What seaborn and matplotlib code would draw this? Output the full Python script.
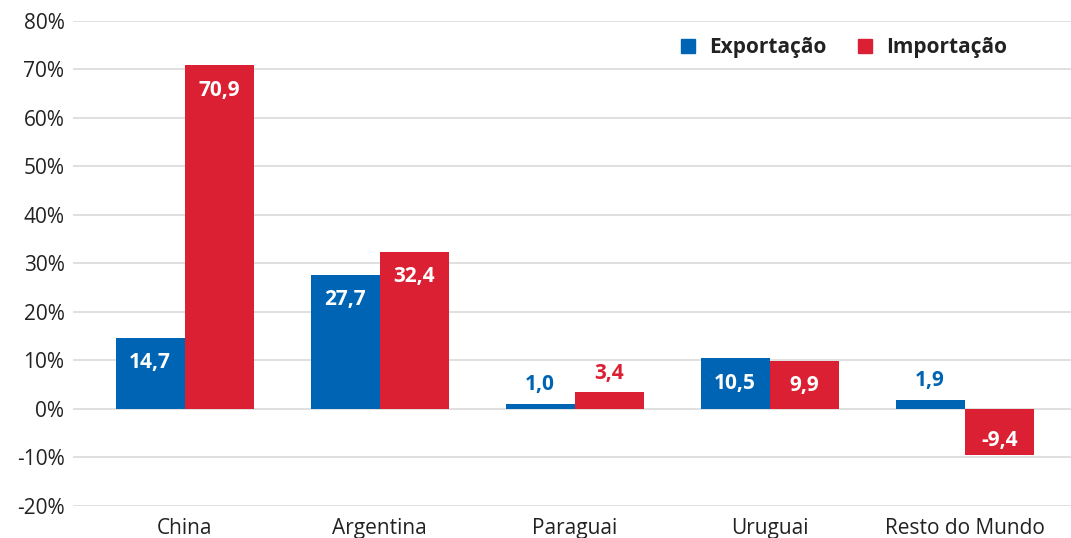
import pandas as pd
import matplotlib.pyplot as plt
import seaborn as sns
from matplotlib.patches import Patch

paises = ["China", "Argentina", "Paraguai", "Uruguai", "Resto do Mundo"]
exportacao = [14.7, 27.7, 1.0, 10.5, 1.9]
importacao = [70.9, 32.4, 3.4, 9.9, -9.4]
series = ["Exportação", "Importação"]
cores = ["#0064b4", "#dc2033"]

df = pd.DataFrame({
    "pais": paises * 2,
    "serie": [series[0]] * len(paises) + [series[1]] * len(paises),
    "valor": exportacao + importacao,
})

sns.set_style("white")
plt.rcParams["font.family"] = ["Open Sans", "DejaVu Sans"]

fig = plt.figure(figsize=(10.71, 5.38), dpi=100)
ax = fig.add_axes([0.068, 0.0595, 0.932, 0.9015])

sns.barplot(data=df, x="pais", y="valor", hue="serie", palette=cores,
            width=0.71, saturation=1, legend=False, linewidth=0, ax=ax)

ax.set_ylim(-20, 80)
ax.set_xlim(-0.574, 4.545)
ax.set_yticks(range(-20, 81, 10))
ax.set_yticklabels([f"{v}%" for v in range(-20, 81, 10)], fontsize=15, color="#222222")
ax.tick_params(axis="y", length=0, pad=6)
ax.tick_params(axis="x", length=0, pad=9, labelsize=15, labelcolor="#222222")
ax.set_xlabel("")
ax.set_ylabel("")
ax.grid(axis="y", color="#dddddd", linewidth=1.3)
ax.set_axisbelow(True)
for s in ax.spines.values():
    s.set_visible(False)

for cont, cor in zip(ax.containers, cores):
    for bar in cont:
        v = bar.get_height()
        x = bar.get_x() + bar.get_width() / 2
        txt = f"{v:.1f}".replace(".", ",")
        if v >= 8:
            ax.annotate(txt, (x, v), xytext=(0, -18), textcoords="offset points",
                        ha="center", va="center", color="white",
                        fontsize=15, fontweight="bold")
        elif v < 0:
            ax.annotate(txt, (x, v), xytext=(0, 10), textcoords="offset points",
                        ha="center", va="center", color="white",
                        fontsize=15, fontweight="bold")
        else:
            ax.annotate(txt, (x, v), xytext=(0, 14), textcoords="offset points",
                        ha="center", va="center", color=cor,
                        fontsize=15, fontweight="bold")

handles = [Patch(color=c, label=s) for c, s in zip(cores, series)]
leg = ax.legend(handles=handles, loc="upper right", bbox_to_anchor=(0.955, 1.005),
                ncol=2, frameon=False, handlelength=0.65, handleheight=0.65,
                handletextpad=0.7, columnspacing=1.5,
                prop={"size": 15, "weight": "bold"})
for t in leg.get_texts():
    t.set_color("#222222")

fig.savefig("out.png", dpi=100)
